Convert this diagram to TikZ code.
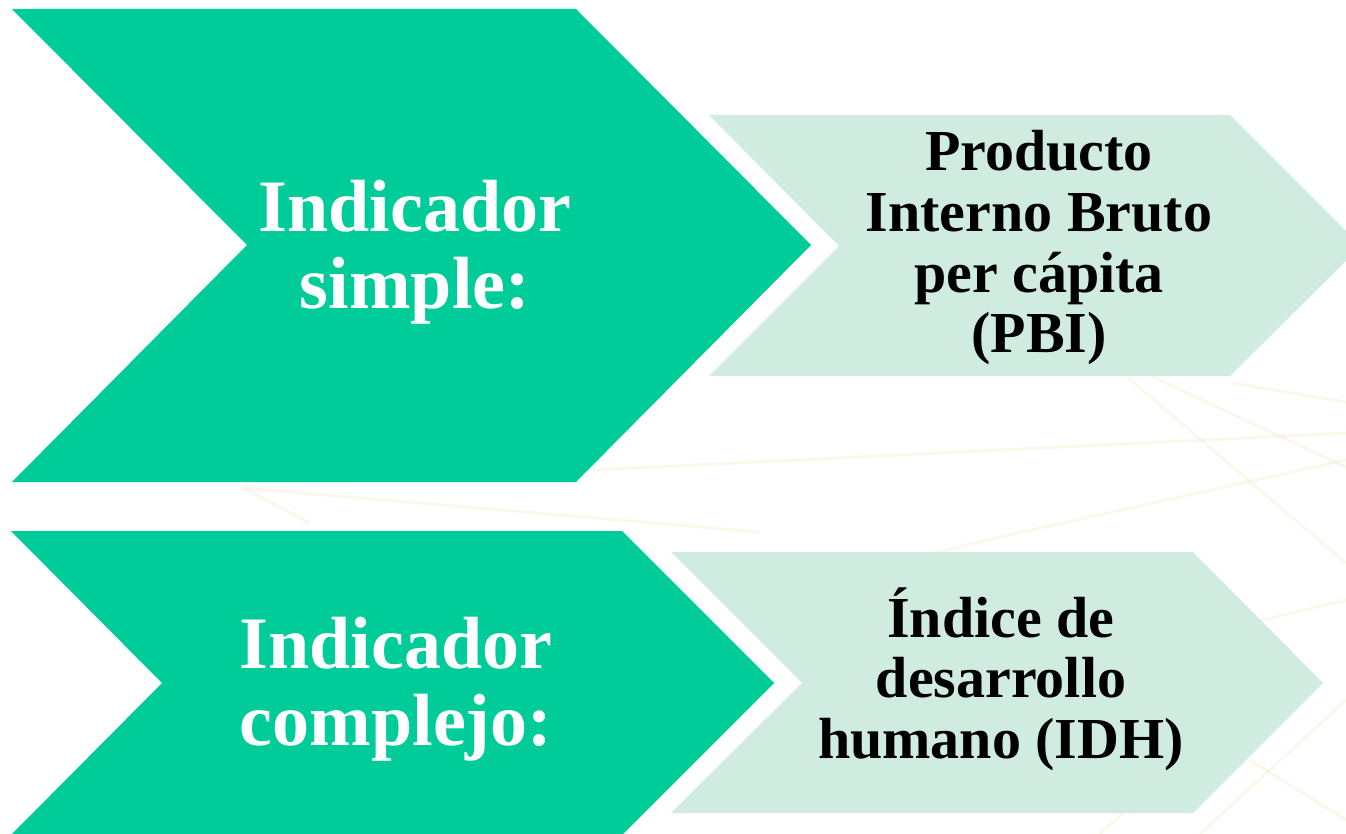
\documentclass[tikz,border=0pt]{standalone}
\usepackage{fontspec}
\setmainfont{Liberation Serif}
\definecolor{bigg}{RGB}{0,204,153}
\definecolor{lightg}{RGB}{208,236,224}
\definecolor{bgline}{RGB}{240,228,185}
\tikzset{
  bigchev/.style={fill=bigg, draw=none},
  lightchev/.style={fill=lightg, draw=none},
  bigtxt/.style={text=white, align=center, inner sep=0pt, font=\fontsize{74}{77}\selectfont\bfseries},
  lighttxt/.style={text=black, align=center, inner sep=0pt, font=\fontsize{58}{60.7}\selectfont\bfseries},
  bgl/.style={draw=bgline, line width=3pt, opacity=0.28}
}
\begin{document}
\begin{tikzpicture}[x=1pt, y=-1pt]
\useasboundingbox (0,0) rectangle (1346,834);
\fill[white] (0,0) rectangle (1346,834);
% faint background texture lines
\begin{scope}
\clip (0,0) rectangle (1346,834);
\draw[bgl] (593,470) -- (1346,433);
\draw[bgl] (1127,377) -- (1346,563);
\draw[bgl] (1153,377) -- (1346,467);
\draw[bgl] (1000,537) -- (1346,460);
\draw[bgl] (1233,383) -- (1346,402);
\draw[bgl] (243,488) -- (760,532);
\draw[bgl] (243,488) -- (310,523);
\draw[bgl] (1000,537) -- (780,590);
\draw[bgl] (1180,640) -- (1346,600);
\draw[bgl] (1200,834) -- (1346,700);
\draw[bgl] (1250,760) -- (1346,820);
\draw[bgl] (1100,834) -- (1180,760);
\end{scope}
% chevrons
\fill[bigchev] (12,9) -- (576,9) -- (811,245) -- (576,482) -- (12,482) -- (247,245) -- cycle;
\fill[lightchev] (709,115) -- (1230,115) -- (1361,246) -- (1230,376) -- (709,376) -- (839,246) -- cycle;
\fill[bigchev] (11,531) -- (622,531) -- (774,683) -- (622,835) -- (11,835) -- (162,683) -- cycle;
\fill[lightchev] (671,552) -- (1193,552) -- (1323,683) -- (1193,813) -- (671,813) -- (802,683) -- cycle;
% labels
\node[bigtxt] (t1) at (415,252) {Indicador\\simple:};
\node[lighttxt] (t2) at (1039,248) {Producto\\Interno Bruto\\per cápita\\(PBI)};
\node[bigtxt] (t3) at (396,689) {Indicador\\complejo:};
\node[lighttxt] (t4) at (1001,679) {Índice de\\desarrollo\\humano (IDH)};
\end{tikzpicture}
\end{document}
